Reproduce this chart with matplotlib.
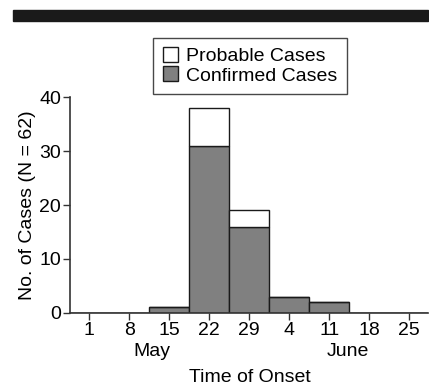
import matplotlib
matplotlib.use("Agg")
import matplotlib.pyplot as plt
from matplotlib.patches import Rectangle, Patch

plt.rcParams['font.family'] = ['Liberation Sans', 'DejaVu Sans']

# Weekly counts by onset week
week_labels = ['1', '8', '15', '22', '29', '4', '11', '18', '25']
confirmed = [0, 0, 1, 31, 16, 3, 2, 0, 0]
probable = [0, 0, 0, 7, 3, 0, 0, 0, 0]

fs = 14

fig = plt.figure(figsize=(4.29, 3.89), dpi=100)
ax = fig.add_axes([0.163, 0.196, 0.835, 0.554])

x = list(range(len(week_labels)))
ax.bar(x, confirmed, width=1.0, color='#808080', edgecolor='#1a1a1a', linewidth=1.0)
ax.bar(x, probable, width=1.0, bottom=confirmed, color='white', edgecolor='#1a1a1a', linewidth=1.0)

ax.set_xlim(-0.48, 8.47)
ax.set_ylim(0, 40)
ax.set_yticks([0, 10, 20, 30, 40])
ax.set_xticks(x)
ax.set_xticklabels(week_labels)
ax.tick_params(labelsize=fs, length=5, width=1, color='#333333', pad=1.5)

for side in ['top', 'right']:
    ax.spines[side].set_visible(False)
for side in ['left', 'bottom']:
    ax.spines[side].set_color('#333333')
    ax.spines[side].set_linewidth(1.2)

ax.set_ylabel('No. of Cases (N = 62)', fontsize=fs, labelpad=2)

# month labels and axis title
fig.text(152 / 429, 1 - 352 / 389, 'May', ha='center', va='center', fontsize=fs)
fig.text(348 / 429, 1 - 352 / 389, 'June', ha='center', va='center', fontsize=fs)
fig.text(250 / 429, 1 - 378 / 389, 'Time of Onset', ha='center', va='center', fontsize=fs)

# legend
handles = [Patch(facecolor='white', edgecolor='#1a1a1a', label='Probable Cases'),
           Patch(facecolor='#808080', edgecolor='#1a1a1a', label='Confirmed Cases')]
leg = fig.legend(handles=handles, loc='upper left',
                 bbox_to_anchor=(153 / 429, 1 - 37.7 / 389),
                 fontsize=fs, frameon=True, fancybox=False,
                 handlelength=0.78, handleheight=0.78, handletextpad=0.4,
                 labelspacing=0.05, borderpad=0.5, borderaxespad=0)
leg.get_frame().set_edgecolor('#1a1a1a')
leg.get_frame().set_linewidth(1.0)

# black band at top
fig.patches.append(Rectangle((13 / 429, 1 - 20.7 / 389), 415 / 429, 10.7 / 389,
                             transform=fig.transFigure, color='#1a1a1a'))

fig.savefig('out.png', dpi=100)
